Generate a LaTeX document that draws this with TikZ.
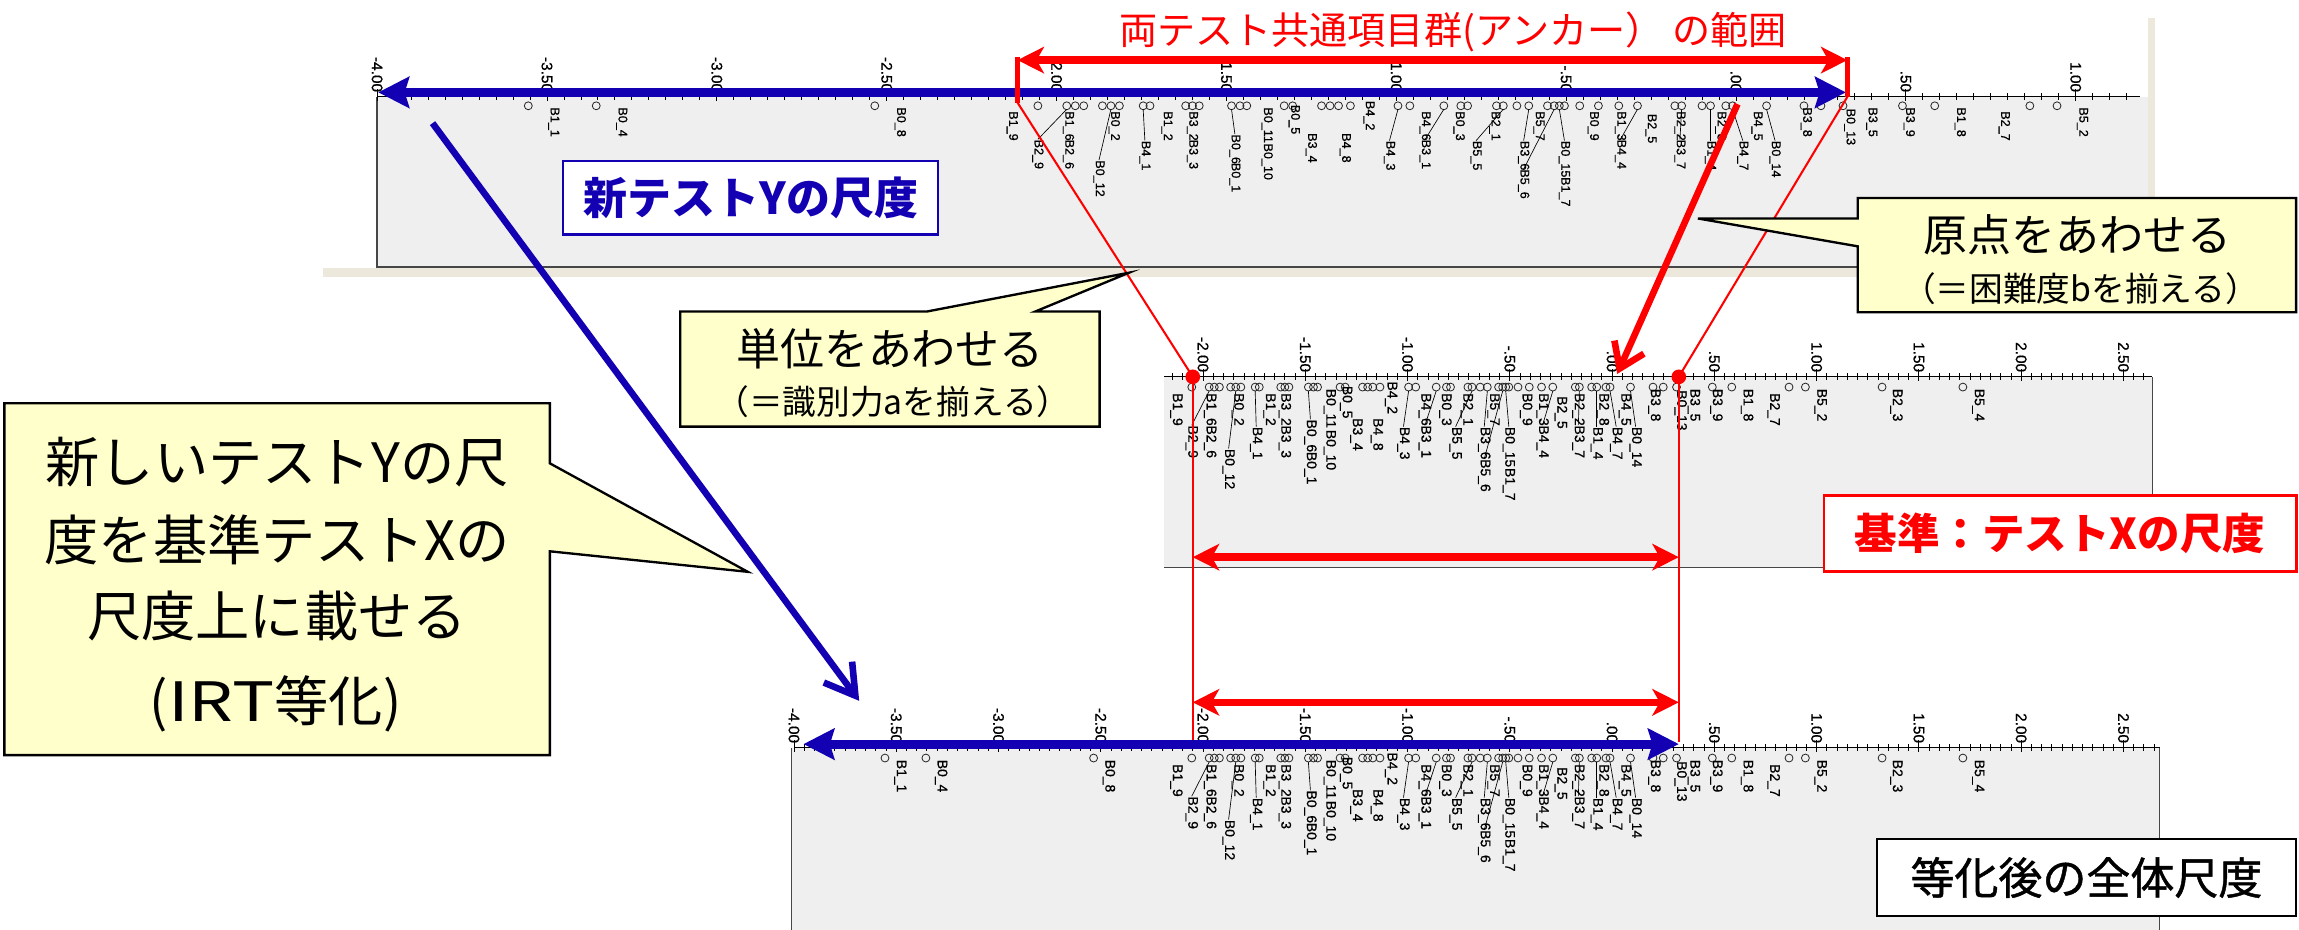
\documentclass[tikz,border=0pt]{standalone}
\usepackage{fontspec}
\setmainfont{Liberation Sans}
\newfontfamily\axf[FakeBold=0.7]{Liberation Sans}
\newfontfamily\jp{Noto Sans CJK JP}
\newfontfamily\jpm[FakeBold=1]{Noto Sans CJK JP}
\usetikzlibrary{arrows.meta}
\definecolor{myblue}{RGB}{18,0,178}
\definecolor{panelgray}{RGB}{239,239,239}
\definecolor{beige}{RGB}{236,233,220}
\definecolor{callyellow}{RGB}{255,255,204}
\definecolor{framegray}{RGB}{70,70,70}

\tikzset{
  axisline/.style={line width=0.8pt, black},
  tickline/.style={line width=0.6pt, black},
  ticklab/.style={font=\axf\fontsize{10.5}{12}\selectfont, inner sep=0pt, rotate=-90, anchor=east},
  itemcirc/.style={line width=0.55pt, black!85},
  leader/.style={line width=0.45pt, black},
  panelframe/.style={line width=1pt, draw=framegray},
  reddbl/.style={draw=red, line width=5pt, arrows={Stealth[length=18pt,width=18pt,inset=5pt]-Stealth[length=18pt,width=18pt,inset=5pt]}},
  bluedbl/.style={draw=myblue, line width=6pt, arrows={Stealth[length=21pt,width=21pt,inset=3pt]-Stealth[length=21pt,width=21pt,inset=3pt]}},
  redbarb/.style={draw=red, line width=4.5pt, arrows={-Straight Barb[length=16pt,width=22pt]}},
  bluebarb/.style={draw=myblue, line width=4.5pt, arrows={-Straight Barb[length=20pt,width=24pt]}},
  thinred/.style={draw=red, line width=1.4pt},
  callout/.style={fill=callyellow, draw=black, line width=1.6pt, line join=miter},
  jptext/.style={inner sep=0pt, align=center},
}

\def\CircleList{-3.555,-3.355,-2.535,-2.055,-1.97,-1.945,-1.92,-1.865,-1.84,-1.815,-1.745,-1.725,-1.62,-1.60,-1.58,-1.485,-1.46,-1.44,-1.33,-1.305,-1.22,-1.195,-1.17,-1.135,-0.995,-0.96,-0.86,-0.81,-0.79,-0.705,-0.685,-0.645,-0.61,-0.555,-0.535,-0.52,-0.505,-0.46,-0.405,-0.345,-0.29,-0.18,-0.16,-0.10,-0.075,-0.03,-0.01,0.09,0.20,0.25,0.315,0.49,0.585,0.865,0.945,1.32,1.715}

\def\LabelList{-3.48/8/B1\_1,-3.28/8/B0\_4,-2.46/8/B0\_8,-2.13/11/B1\_9,-2.055/33/B2\_9,-1.965/11/B1\_6,-1.965/33/B2\_6,-1.83/11/B0\_2,-1.875/49/B0\_12,-1.675/11/B1\_2,-1.74/34/B4\_1,-1.60/11/B3\_2,-1.60/33/B3\_3,-1.475/29/B0\_6,-1.475/51/B0\_1,-1.38/8/B0\_11,-1.38/36/B0\_10,-1.30/6/B0\_5,-1.25/28/B3\_4,-1.15/28/B4\_8,-1.08/3/B4\_2,-1.02/34/B4\_3,-0.915/11/B4\_6,-0.915/33/B3\_1,-0.815/11/B0\_3,-0.71/11/B2\_1,-0.765/34/B5\_5,-0.58/11/B5\_7,-0.625/34/B3\_6,-0.625/56/B5\_6,-0.505/34/B0\_15,-0.505/62/B1\_7,-0.42/11/B0\_9,-0.34/11/B1\_3,-0.34/33/B4\_4,-0.25/13/B2\_5,-0.165/11/B2\_2,-0.165/33/B3\_7,-0.045/11/B2\_8,-0.075/34/B1\_4,0.062/11/B4\_5,0.02/34/B4\_7,0.115/34/B0\_14,0.207/8/B3\_8,0.335/9/B0\_13,0.40/8/B3\_5,0.51/8/B3\_9,0.66/8/B1\_8,0.79/11/B2\_7,1.02/8/B5\_2,1.39/8/B2\_3,1.79/8/B5\_4}

\def\LeaderList{-1.97/-2.055/33,-1.84/-1.875/49,-1.745/-1.74/34,-1.485/-1.475/29,-0.995/-1.02/34,-0.86/-0.915/33,-0.685/-0.765/34,-0.61/-0.625/34,-0.535/-0.625/56,-0.52/-0.505/34,-0.29/-0.34/33,-0.16/-0.165/33,-0.075/-0.075/34,-0.01/0.02/34,0.09/0.115/34}

% #1 x of v=0, #2 unit, #3 axis y, #4 vmin, #5 vmax, #6 dy scale, #7 item font size
\newcommand\ScalePanel[7]{%
  \draw[axisline] ({#1+#2*(#4)},#3) -- ({#1+#2*(#5)},#3);
  \foreach \t in {-80,...,60}{%
    \pgfmathsetmacro\vv{\t/20}%
    \pgfmathtruncatemacro\ok{(\vv>=#4-0.001)&&(\vv<=#5+0.001)}%
    \ifnum\ok=1 \draw[tickline] ({#1+#2*\vv},#3-2.5) -- ({#1+#2*\vv},#3+2.5);\fi
  }%
  \foreach \vv/\lab in {-4/-4.00,-3.5/-3.50,-3/-3.00,-2.5/-2.50,-2/-2.00,-1.5/-1.50,-1/-1.00,-0.5/-.50,0/.00,0.5/.50,1/1.00,1.5/1.50,2/2.00,2.5/2.50}{%
    \pgfmathtruncatemacro\ok{(\vv>=#4-0.001)&&(\vv<=#5+0.001)}%
    \ifnum\ok=1
      \draw[tickline] ({#1+#2*(\vv)},#3-5) -- ({#1+#2*(\vv)},#3+3);
      \node[ticklab] at ({#1+#2*(\vv)},#3-3) {\lab};
    \fi
  }%
  \foreach \c in \CircleList{%
    \pgfmathtruncatemacro\ok{(\c>=#4)&&(\c<=#5)}%
    \ifnum\ok=1 \draw[itemcirc] ({#1+#2*(\c)},{#3+#6*7}) circle (2.7pt);\fi
  }%
  \foreach \cv/\lv/\dy in \LeaderList{%
    \pgfmathtruncatemacro\ok{(\lv>=#4)&&(\lv<=#5)}%
    \ifnum\ok=1 \draw[leader] ({#1+#2*(\cv)},{#3+#6*9.7}) -- ({#1+#2*(\lv)},{#3+#6*(\dy)});\fi
  }%
  \foreach \lv/\dy/\txt in \LabelList{%
    \pgfmathtruncatemacro\ok{(\lv>=#4)&&(\lv<=#5)}%
    \ifnum\ok=1 \node[inner sep=0pt, rotate=-90, anchor=west, font=\axf\fontsize{#7}{#7}\selectfont] at ({#1+#2*(\lv)},{#3+#6*(\dy)}) {\txt};\fi
  }%
}

\begin{document}
\begin{tikzpicture}[x=1pt,y=-1pt]
\useasboundingbox (0,0) rectangle (1568,634);
\fill[white] (0,0) rectangle (1568,634);

% ---------- top panel (new test Y) ----------
\fill[beige] (220,183) rectangle (1470,189);
\fill[beige] (1465,12) rectangle (1470,189);
\fill[panelgray] (257,66) rectangle (1465,182);
\draw[panelframe] (257,66) -- (257,182) -- (1465,182);
\ScalePanel{1184}{231.7}{66}{-4}{1.19}{0.88}{8.6}

% ---------- middle panel (reference test X) ----------
\fill[panelgray] (794,257) rectangle (1468,387);
\draw[panelframe] (794,387) -- (1468,387) -- (1468,257);
\ScalePanel{1099.5}{139.5}{257}{-2.19}{2.64}{1}{9.5}

% ---------- bottom panel (after equating) ----------
\fill[panelgray] (540,510) rectangle (1473,634);
\draw[panelframe] (540,510) -- (540,634);
\draw[panelframe] (1473,510) -- (1473,634);
\ScalePanel{1099.5}{139.5}{510}{-4}{2.68}{1}{9.5}

% ---------- coordinates ----------
\coordinate (brL) at (694,41);
\coordinate (brR) at (1260,41);
\coordinate (brLb) at (694,70);
\coordinate (brRb) at (1260,66);
\coordinate (brLt) at (694,39);
\coordinate (brRt) at (1260,39);
\coordinate (dotL) at (813.5,257);
\coordinate (dotR) at (1145,257);
\coordinate (vLb) at (813.5,506);
\coordinate (vRb) at (1145,506);
\coordinate (mArL) at (813.5,380);
\coordinate (mArR) at (1145,380);
\coordinate (lArL) at (813.5,479);
\coordinate (lArR) at (1145,479);
\coordinate (tbL) at (258,63);
\coordinate (tbR) at (1259,63);
\coordinate (bbL) at (548,507.5);
\coordinate (bbR) at (1145,507.5);
\coordinate (diagS) at (295,84);
\coordinate (diagE) at (586,478);
\coordinate (rdS) at (1185,71);
\coordinate (rdE) at (1103,255);

% ---------- red construction lines ----------
\draw[thinred] (brLb) -- (dotL);
\draw[thinred] (brRb) -- (dotR);
\draw[thinred, line width=1.3pt] (dotL) -- (vLb);
\draw[thinred, line width=1.3pt] (dotR) -- (vRb);
\fill[red] (dotL) circle (5pt);
\fill[red] (dotR) circle (5pt);

% ---------- blue arrows ----------
\draw[bluedbl] (tbL) -- (tbR);
\draw[bluedbl] (bbL) -- (bbR);
\draw[bluebarb] (diagS) -- (diagE);

% ---------- red arrows ----------
\draw[draw=red, line width=3.5pt] (brLt) -- (brLb);
\draw[draw=red, line width=3.5pt] (brRt) -- (brRb);
\draw[reddbl] (brL) -- (brR);
\draw[reddbl] (mArL) -- (mArR);
\draw[reddbl] (lArL) -- (lArR);
\draw[redbarb] (rdS) -- (rdE);

% ---------- title ----------
\node[jptext, text=red, font=\jp\fontsize{26}{26}\selectfont] (title) at (991,22) {両テスト共通項目群(アンカー） の範囲};

% ---------- labelled boxes ----------
\node[draw=myblue, line width=1.5pt, fill=white, minimum width=256pt, minimum height=50pt, inner sep=0pt, text=myblue, font=\jp\bfseries\fontsize{30}{30}\selectfont] (ybox) at (512,135) {新テストYの尺度};
\node[draw=red, line width=2pt, fill=white, minimum width=322pt, minimum height=52pt, inner sep=0pt, text=red, font=\jp\bfseries\fontsize{29}{29}\selectfont] (xbox) at (1405,364) {基準：テストXの尺度};
\node[draw=black, line width=1.5pt, fill=white, minimum width=286pt, minimum height=53pt, inner sep=0pt, font=\jpm\fontsize{30}{30}\selectfont] (eqbox) at (1423,598.5) {等化後の全体尺度};

% ---------- callouts ----------
\filldraw[callout] (1267,135) -- (1566,135) -- (1566,213) -- (1267,213) -- (1267,168) -- (1158,149) -- (1267,149) -- cycle;
\node[jptext, font=\jp\fontsize{30}{30}\selectfont] (origin1) at (1417,160) {原点をあわせる};
\node[jptext, font=\jp\fontsize{23}{23}\selectfont] (origin2) at (1419,197) {（＝困難度bを揃える）};

\filldraw[callout] (464,212.5) -- (632,212.5) -- (770,186) -- (706,212.5) -- (750,212.5) -- (750,291) -- (464,291) -- cycle;
\node[jptext, font=\jp\fontsize{30}{30}\selectfont] (unit1) at (607,238) {単位をあわせる};
\node[jptext, font=\jp\fontsize{23}{23}\selectfont] (unit2) at (609,274) {（＝識別力aを揃える）};

\filldraw[callout] (3,275) -- (375,275) -- (375,316) -- (510,390) -- (375,376) -- (375,515) -- (3,515) -- cycle;
\node[jptext, font=\jp\fontsize{37}{37}\selectfont] (big1) at (189,315) {新しいテストYの尺};
\node[jptext, font=\jp\fontsize{37}{37}\selectfont] (big2) at (189,368) {度を基準テストXの};
\node[jptext, font=\jp\fontsize{37}{37}\selectfont] (big3) at (189,420) {尺度上に載せる};
\node[jptext, font=\jp\fontsize{37}{37}\selectfont] (big4) at (188,480) {(\scalebox{1.3}[1]{IRT}等化)};
\end{tikzpicture}
\end{document}
